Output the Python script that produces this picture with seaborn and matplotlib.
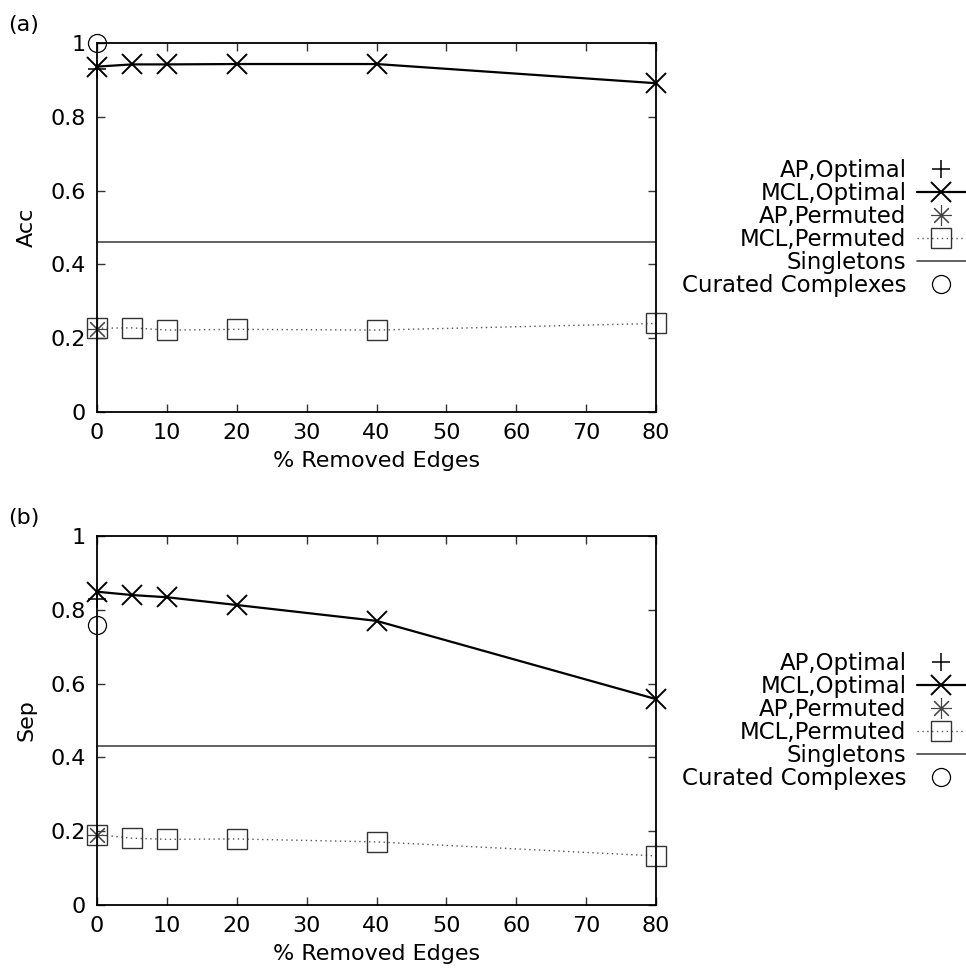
"""
Acc / Sep vs. % removed edges, two panels in gnuplot look.
"""

import matplotlib

matplotlib.use("Agg")
import matplotlib.pyplot as plt
import seaborn as sns

# data
removed = [0, 5, 10, 20, 40, 80]
ap_x = [0]

acc_mcl_opt = [0.936, 0.942, 0.942, 0.943, 0.943, 0.891]
acc_mcl_perm = [0.227, 0.228, 0.222, 0.224, 0.222, 0.240]
acc_ap_opt = [0.93]
acc_ap_perm = [0.225]
acc_singletons = 0.46
acc_curated = [1.0]

sep_mcl_opt = [0.849, 0.840, 0.834, 0.813, 0.770, 0.558]
sep_mcl_perm = [0.191, 0.181, 0.178, 0.179, 0.171, 0.133]
sep_ap_opt = [0.83]
sep_ap_perm = [0.19]
sep_singletons = 0.432
sep_curated = [0.759]

x_ticks = [0, 10, 20, 30, 40, 50, 60, 70, 80]
y_ticks = [0, 0.2, 0.4, 0.6, 0.8, 1]

sns.set_style("ticks")
plt.rcParams["font.family"] = ["DejaVu Sans"]
plt.rcParams["font.size"] = 16
for key in ["text.color", "axes.labelcolor", "xtick.color", "ytick.color"]:
    plt.rcParams[key] = "black"

fig = plt.figure(figsize=(9.66, 9.76), dpi=100)
ax_a = fig.add_axes([97 / 966, 1 - 412 / 976, 559 / 966, 369 / 976])
ax_b = fig.add_axes([97 / 966, 1 - 905 / 976, 559 / 966, 369 / 976])

grey = "#555555"
asterisk = (8, 2, 0)


def panel(ax, mcl_opt, mcl_perm, ap_opt, ap_perm, singletons, curated, ylabel, tag, leg_y):
    sns.lineplot(x=ap_x, y=ap_opt, ax=ax, color="black", marker="+", markersize=13,
                 mec="black", mew=1.1, linestyle="none", label="AP,Optimal", clip_on=False)
    sns.lineplot(x=removed, y=mcl_opt, ax=ax, color="black", marker="x", markersize=14,
                 mec="black", mew=1.4, linewidth=1.6, label="MCL,Optimal", clip_on=False)
    sns.lineplot(x=ap_x, y=ap_perm, ax=ax, color="#333333", marker=asterisk, markersize=15,
                 mec="#444444", mew=0.8, linestyle="none", label="AP,Permuted", clip_on=False)
    sns.lineplot(x=removed, y=mcl_perm, ax=ax, color=grey, marker="s", markersize=14,
                 mfc="none", mec="#333333", mew=1.0, linewidth=1.0, linestyle=(0, (1, 2.5)),
                 label="MCL,Permuted", clip_on=False)
    ax.axhline(singletons, color=grey, linewidth=1.3, label="Singletons")
    sns.lineplot(x=ap_x, y=curated, ax=ax, color="black", marker="o", markersize=13,
                 mfc="none", mec="black", mew=0.9, linestyle="none",
                 label="Curated Complexes", clip_on=False)

    ax.set_xlim(0, 80)
    ax.set_ylim(0, 1)
    ax.set_xticks(x_ticks)
    ax.set_yticks(y_ticks)
    ax.set_yticklabels(["%g" % v for v in y_ticks])
    ax.tick_params(direction="in", length=6, width=1, top=True, right=True,
                   labelsize=16, pad=8, color="#333333")
    for s in ax.spines.values():
        s.set_linewidth(1.3)
        s.set_color("black")
    ax.set_xlabel("% Removed Edges", fontsize=16)
    ax.set_ylabel(ylabel, fontsize=16)
    ax.xaxis.set_label_coords(0.5, -0.105)
    ax.yaxis.set_label_coords(-0.108, 0.5)

    ax.legend(loc="center right", bbox_to_anchor=(1.0, leg_y), bbox_transform=fig.transFigure,
              frameon=False, markerfirst=False, fontsize=16.5, borderpad=0, borderaxespad=0,
              handlelength=2.15, handletextpad=0.45, labelspacing=0.0)
    fig.text(8 / 966, ax.get_position().y1 + 18 / 976, tag, fontsize=16, ha="left", va="center")


panel(ax_a, acc_mcl_opt, acc_mcl_perm, acc_ap_opt, acc_ap_perm, acc_singletons,
      acc_curated, "Acc", "(a)", 1 - 228 / 976)
panel(ax_b, sep_mcl_opt, sep_mcl_perm, sep_ap_opt, sep_ap_perm, sep_singletons,
      sep_curated, "Sep", "(b)", 1 - 721 / 976)

fig.savefig("out.png", dpi=100)
